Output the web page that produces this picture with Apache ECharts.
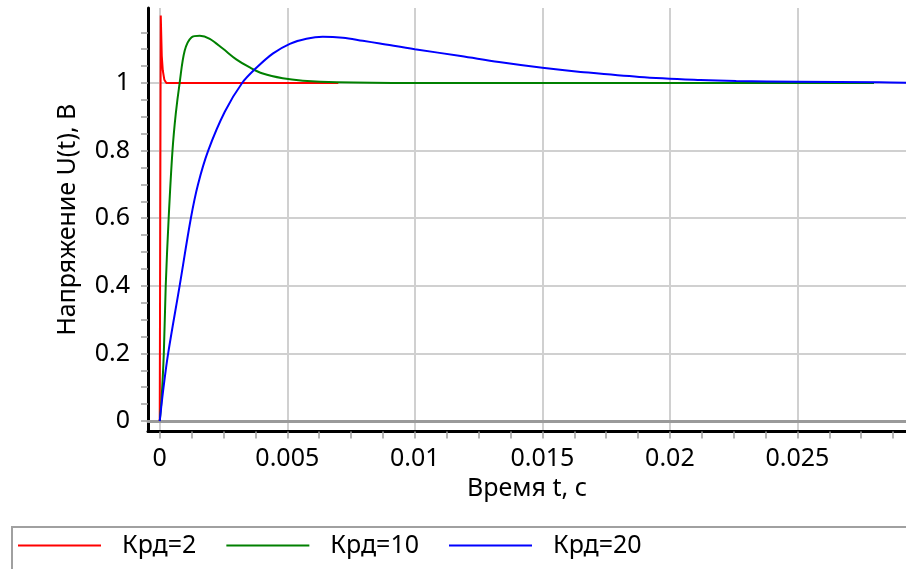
<!DOCTYPE html>
<html>
<head>
<meta charset="utf-8">
<title>Переходная характеристика</title>
<script src="https://cdn.jsdelivr.net/npm/echarts@6/dist/echarts.min.js"></script>
<style>
  html, body { margin: 0; padding: 0; background: #fff; }
  #chart { width: 906px; height: 569px; }
</style>
</head>
<body>
<div id="chart"></div>
<script>
// время t, с и напряжение U(t), В для каждого Крд
const redT = [0, 0.00002, 0.00004, 0.00008, 0.00012, 0.00018, 0.00026, 0.007]
const redU = [0, 0.6, 1.2, 1.08, 1.037, 1.01, 1.0, 1.0]

const greenT = [0, 0.000067, 0.00016, 0.000235, 0.00035, 0.0005, 0.00063, 0.00078, 0.00098, 0.00124,
  0.00157, 0.00196, 0.00247, 0.003, 0.00353, 0.00404, 0.00482, 0.00561, 0.00694, 0.01, 0.028]
const greenU = [0, 0.06, 0.2, 0.4, 0.6, 0.8, 0.91, 1.0, 1.096, 1.135,
  1.14, 1.131, 1.102, 1.07, 1.046, 1.028, 1.014, 1.007, 1.002, 1.0, 1.0]

const blueT = [0, 0.00013, 0.00033, 0.00078, 0.00122, 0.0015, 0.0019, 0.00255, 0.00323,
  0.00379, 0.00443, 0.0051, 0.00575, 0.00639, 0.00718, 0.00796, 0.00863, 0.01, 0.0118,
  0.0133, 0.015, 0.0165, 0.0188, 0.0212, 0.0226, 0.025, 0.0282, 0.0293]
const blueU = [0, 0.088, 0.2, 0.4, 0.6, 0.7, 0.8, 0.915, 1.0,
  1.045, 1.087, 1.116, 1.131, 1.137, 1.134, 1.125, 1.117, 1.1, 1.08,
  1.062, 1.045, 1.033, 1.018, 1.009, 1.006, 1.004, 1.002, 1.001]

const seriesNames = ['Крд=2', 'Крд=10', 'Крд=20']
const seriesColors = ['#ff0000', '#008000', '#0000ff']

const xLabelVals = [0, 0.005, 0.01, 0.015, 0.02, 0.025]
const xTickVals = [0, 0.00125, 0.0025, 0.00375, 0.005, 0.00625, 0.0075, 0.00875, 0.01, 0.01125,
  0.0125, 0.01375, 0.015, 0.01625, 0.0175, 0.01875, 0.02, 0.02125, 0.0225, 0.02375,
  0.025, 0.02625, 0.0275, 0.02875]
const yLabelVals = [0, 0.2, 0.4, 0.6, 0.8, 1]
const yTickVals = [0, 0.05, 0.1, 0.15, 0.2, 0.25, 0.3, 0.35, 0.4, 0.45, 0.5, 0.55,
  0.6, 0.65, 0.7, 0.75, 0.8, 0.85, 0.9, 0.95, 1, 1.05, 1.1, 1.15]

const xMin = -0.00046
const xMax = 0.029255
const yMin = -0.031
const yMax = 1.222

const FONT = 'Noto Sans'
const FS = 25
const zip = (ts, us) => ts.map((t, i) => [t, us[i]])
const fmt = (v) => String(+v.toFixed(4))

const chart = echarts.init(document.getElementById('chart'), null, { renderer: 'canvas' })

const lineSeries = (i, data, smooth) => ({
  name: seriesNames[i],
  type: 'line',
  symbol: 'none',
  smooth: smooth,
  data: data,
  lineStyle: { color: seriesColors[i], width: 2 },
  itemStyle: { color: seriesColors[i] }
})

const option = {
  animation: false,
  backgroundColor: '#fff',
  textStyle: { fontFamily: FONT },
  grid: { left: 148, right: 0, top: 8, bottom: 137.5 },
  xAxis: [
    {
      type: 'value',
      min: xMin,
      max: xMax,
      position: 'bottom',
      name: 'Время t, с',
      nameLocation: 'middle',
      nameGap: 43,
      nameTextStyle: { fontSize: FS, color: '#000', fontFamily: FONT },
      axisLine: { show: true, onZero: false, lineStyle: { color: '#000', width: 3 } },
      axisTick: { show: true, customValues: xTickVals, length: 7, lineStyle: { color: '#a0a0a0', width: 1.5 } },
      axisLabel: { customValues: xLabelVals, formatter: fmt, margin: 15, fontSize: FS, color: '#000', fontFamily: FONT },
      splitLine: { show: false }
    },
    {
      // верхняя рамка и вертикальная сетка
      type: 'value',
      min: xMin,
      max: xMax,
      position: 'top',
      axisLine: { show: true, lineStyle: { color: '#9a9a9a', width: 3 } },
      axisTick: { show: false, customValues: xLabelVals },
      axisLabel: { show: false },
      splitLine: { show: true, lineStyle: { color: '#d0d0d0', width: 2 } }
    }
  ],
  yAxis: [
    {
      type: 'value',
      min: yMin,
      max: yMax,
      position: 'left',
      name: 'Напряжение U(t), В',
      nameLocation: 'middle',
      nameGap: 68,
      nameTextStyle: { fontSize: FS, color: '#000', fontFamily: FONT },
      axisLine: { show: true, onZero: false, lineStyle: { color: '#000', width: 3 } },
      axisTick: { show: true, customValues: yTickVals, length: 7, lineStyle: { color: '#a0a0a0', width: 1.5 } },
      axisLabel: { customValues: yLabelVals, formatter: fmt, margin: 18, fontSize: FS, color: '#000', fontFamily: FONT },
      splitLine: { show: false }
    },
    {
      // горизонтальная сетка
      type: 'value',
      min: yMin,
      max: yMax,
      position: 'right',
      axisLine: { show: false },
      axisTick: { show: false, customValues: yLabelVals },
      axisLabel: { show: false },
      splitLine: { show: true, lineStyle: { color: '#d0d0d0', width: 2 } }
    }
  ],
  legend: {
    left: 17,
    top: 533,
    padding: 0,
    itemWidth: 83,
    itemHeight: 14,
    itemGap: 29,
    itemStyle: { opacity: 0 },
    textStyle: { fontSize: FS, color: '#000', fontFamily: FONT, padding: [0, 0, 0, 16] },
    data: seriesNames
  },
  graphic: [
    {
      type: 'rect',
      z: -1,
      shape: { x: 12, y: 527, width: 1000, height: 100 },
      style: { fill: 'none', stroke: '#a0a0a0', lineWidth: 2 }
    }
  ],
  series: [
    lineSeries(0, zip(redT, redU), false),
    lineSeries(1, zip(greenT, greenU), 0.35),
    lineSeries(2, zip(blueT, blueU), 0.35)
  ]
}

chart.setOption(option)
</script>
</body>
</html>
